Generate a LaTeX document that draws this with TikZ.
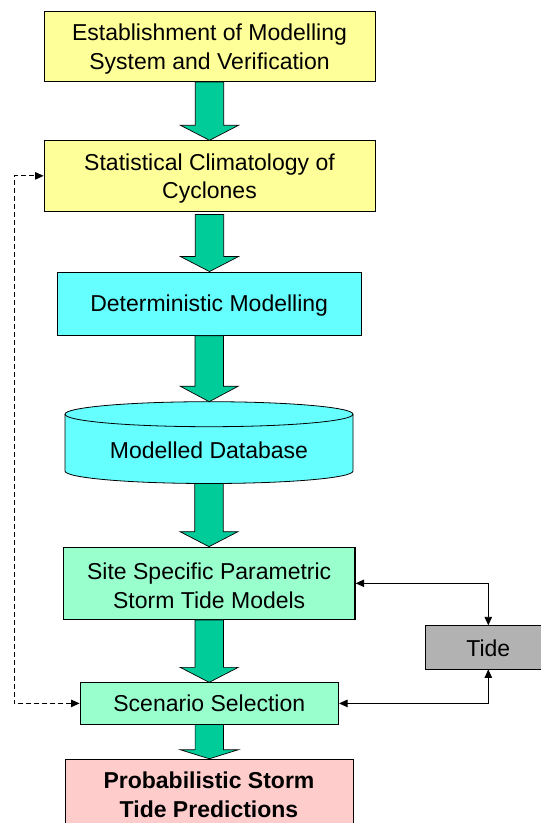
\documentclass[tikz,border=0pt]{standalone}
\usepackage{fontspec}
\setmainfont{Liberation Sans}
\usetikzlibrary{calc,arrows.meta}
\definecolor{cyellow}{HTML}{FFFF99}
\definecolor{ccyan}{HTML}{66FFFF}
\definecolor{cmint}{HTML}{99FFCC}
\definecolor{carrow}{HTML}{00CC99}
\definecolor{cpink}{HTML}{FFCCCC}
\definecolor{cgray}{HTML}{B2B2B2}
\newcommand{\tstrut}{\rule{0pt}{21.7pt}}
\tikzset{
  box/.style={draw=black, line width=0.8pt, inner sep=0pt, align=center, font=\fontsize{23}{28.5}\selectfont},
  conn/.style={line width=0.9pt, {Triangle[length=8.5pt,width=7.5pt]}-{Triangle[length=8.5pt,width=7.5pt]}},
  blk/.style={fill=carrow, draw=black, line width=0.7pt, line join=miter},
  cyl/.style={line width=0.8pt},
}
\newcommand{\blockarr}[3]{%
  \path[blk] let \p1=(#1), \p2=(#2) in
  (\x1-14.2pt,\y1) -- (\x1+14.2pt,\y1) -- (\x1+14.2pt,\y2+#3) -- (\x1+29pt,\y2+#3)
  -- (\x1,\y2) -- (\x1-29pt,\y2+#3) -- (\x1-14.2pt,\y2+#3) -- cycle;}
\begin{document}
\begin{tikzpicture}[x=1pt,y=1pt]
\useasboundingbox (0,0) rectangle (541,-823);
\clip (0,0) rectangle (541,-823);
% boxes
\node[box, fill=cyellow, minimum width=331pt, minimum height=70.4pt] (est) at (209.5,-46.5) {\tstrut Establishment of Modelling\\System and Verification};
\node[box, fill=cyellow, minimum width=331pt, minimum height=70.3pt] (stat) at (209.5,-175.85) {\tstrut Statistical Climatology of\\Cyclones};
\node[box, fill=ccyan, minimum width=303.7pt, minimum height=63.3pt, text depth=0pt] (det) at (209.2,-303.6) {Deterministic Modelling};
% cylinder
\fill[ccyan] (65,-414.2) -- (65,-471) arc[start angle=180,end angle=360,x radius=144pt,y radius=12.5pt] -- (353,-414.2) arc[start angle=0,end angle=180,x radius=144pt,y radius=12.5pt] -- cycle;
\draw[cyl] (65,-414.2) -- (65,-471) arc[start angle=180,end angle=360,x radius=144pt,y radius=12.5pt] -- (353,-414.2);
\draw[cyl] (209,-414.2) ellipse [x radius=144pt, y radius=12.5pt];
\node[font=\fontsize{23}{28.5}\selectfont, inner sep=0pt] (db) at (209,-450.5) {Modelled Database};
\coordinate (dbtop) at (209,-401.7);
\coordinate (dbbot) at (209,-483.5);
\node[box, line width=1.3pt, fill=cmint, minimum width=291.7pt, minimum height=72pt] (site) at (209.2,-583.3) {\tstrut Site Specific Parametric\\Storm Tide Models};
\node[box, fill=cmint, minimum width=258.7pt, minimum height=41.3pt] (scen) at (209.3,-703.4) {Scenario Selection};
\node[box, fill=cpink, minimum width=288pt, minimum height=71.7pt, font=\bfseries\fontsize{23}{28.5}\selectfont] (prob) at (209,-795) {Probabilistic Storm\\Tide Predictions};
\node[box, fill=cgray, minimum width=126.6pt, minimum height=43.3pt, text height=18.4pt, text depth=0pt] (tide) at (488.3,-647.35) {Tide};
% block arrows
\blockarr{est.south}{stat.north}{15pt}
\blockarr{$(stat.south)+(0,-3pt)$}{det.north}{15pt}
\blockarr{det.south}{dbtop}{15.5pt}
\blockarr{dbbot}{site.north}{15pt}
\blockarr{site.south}{scen.north}{15pt}
\blockarr{scen.south}{prob.north}{9pt}
% connectors
\draw[conn] (site.east) -| (tide.north);
\draw[conn] (scen.east) -| (tide.south);
\coordinate (dl) at (14,-703.4);
\draw[conn, dash pattern=on 5pt off 3pt] (scen.west) -- (dl) |- (stat.west);
\end{tikzpicture}
\end{document}
